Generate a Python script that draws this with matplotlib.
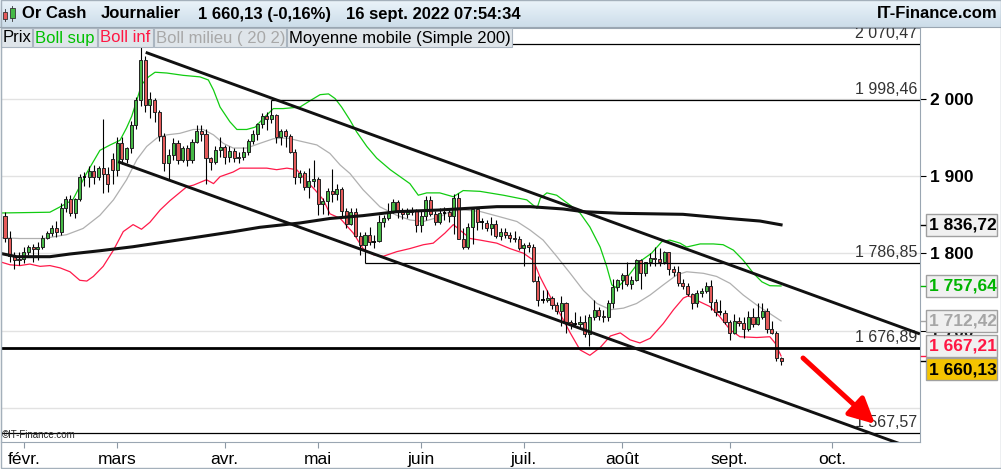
import numpy as np
import matplotlib.pyplot as plt
from matplotlib.patches import Rectangle

plt.rcParams['font.family'] = ['Liberation Sans', 'DejaVu Sans']

# daily candles, one per trading day, 26 Jan 2022 -> 16 Sep 2022
opens = [1848, 1820, 1797, 1791,
         1793, 1801, 1808, 1805, 1808, 1820, 1826, 1833, 1827, 1859, 1870, 1852, 1870, 1898, 1899, 1906, 1898, 1910, 1903, 1922,
         1908, 1943, 1922, 1936, 1966, 1998, 2050, 1992, 1998, 1982, 1951, 1917, 1927, 1943, 1921, 1936, 1921, 1944, 1958, 1954, 1923, 1918, 1933,
         1937, 1925, 1932, 1923, 1925, 1931, 1945, 1954, 1967, 1977, 1974, 1979, 1950, 1958, 1951, 1931, 1898, 1904, 1886, 1894,
         1896, 1863, 1868, 1881, 1877, 1883, 1854, 1838, 1853, 1822, 1811, 1824, 1815, 1816, 1841, 1846, 1853, 1866, 1853, 1851, 1853, 1855,
         1837, 1848, 1869, 1851, 1841, 1852, 1853, 1848, 1871, 1819, 1808, 1834, 1857, 1840, 1839, 1832, 1838, 1822, 1827, 1823, 1820, 1818,
         1807, 1811, 1808, 1764, 1739, 1740, 1742, 1733, 1725, 1735, 1711, 1708, 1709, 1711, 1696, 1718, 1727, 1719, 1717, 1735, 1756,
         1766, 1772, 1760, 1765, 1791, 1775, 1789, 1794, 1792, 1789, 1802, 1779, 1776, 1761, 1758, 1747, 1736, 1748, 1751, 1758, 1737, 1724, 1723,
         1711, 1697, 1712, 1710, 1702, 1718, 1708, 1717, 1725, 1702, 1697, 1665]
highs = [1853, 1829, 1802, 1801,
         1808, 1811, 1812, 1815, 1823, 1829, 1836, 1842, 1865, 1874, 1875, 1872, 1902, 1905, 1913, 1914, 1913, 1974, 1912, 1929,
         1950, 1950, 1937, 1971, 2002, 2070.47, 2055, 2009, 2001, 1985, 1955, 1935, 1949, 1946, 1938, 1940, 1948, 1966, 1966, 1960, 1925, 1939, 1950,
         1940, 1938, 1936, 1931, 1937, 1948, 1959, 1969, 1981, 1982, 1998.46, 1980, 1960, 1961, 1954, 1935, 1908, 1906, 1910, 1920,
         1899, 1872, 1884, 1909, 1890, 1886, 1859, 1858, 1858, 1828, 1827, 1834, 1823, 1849, 1850, 1865, 1870, 1869, 1858, 1858, 1860, 1857,
         1855, 1874, 1874, 1855, 1858, 1860, 1858, 1876, 1878, 1832, 1839, 1857, 1858, 1846, 1843, 1847, 1843, 1832, 1833, 1828, 1829, 1822,
         1813, 1814, 1812, 1771, 1752, 1752, 1745, 1737, 1745, 1737, 1713, 1724, 1719, 1720, 1722, 1739, 1731, 1726, 1740, 1767, 1767,
         1775, 1788, 1770, 1792, 1792, 1789, 1800, 1808, 1807, 1803, 1802, 1783, 1783, 1767, 1762, 1749, 1752, 1755, 1763, 1765, 1741, 1740, 1727,
         1714, 1722, 1717, 1717, 1725, 1729, 1735, 1736, 1729, 1712, 1699, 1666]
lows = [1815, 1788, 1780, 1785,
        1787, 1798, 1788, 1791, 1805, 1818, 1822, 1821, 1824, 1853, 1848, 1846, 1868, 1887, 1885, 1890, 1895, 1878, 1879, 1889,
        1900, 1915, 1917, 1930, 1960, 1990, 1982, 1975, 1970, 1945, 1906, 1895, 1920, 1915, 1918, 1913, 1916, 1942, 1945, 1890, 1907, 1915, 1925,
        1915, 1918, 1918, 1917, 1920, 1927, 1941, 1947, 1962, 1959, 1968, 1942, 1940, 1937, 1930, 1890, 1891, 1882, 1872, 1885,
        1850, 1851, 1850, 1866, 1869, 1848, 1832, 1836, 1821, 1798, 1786.85, 1811, 1807, 1814, 1834, 1843, 1852, 1846, 1844, 1846, 1850, 1828,
        1828, 1843, 1848, 1836, 1838, 1843, 1840, 1825, 1819, 1805, 1805, 1812, 1830, 1831, 1829, 1824, 1820, 1817, 1820, 1815, 1814, 1804,
        1784, 1802, 1763, 1732, 1735, 1737, 1728, 1722, 1706, 1697, 1702, 1704, 1704, 1692, 1680, 1713, 1714, 1711, 1712, 1729, 1751,
        1754, 1758, 1754, 1764, 1754, 1771, 1784, 1783, 1784, 1786, 1772, 1771, 1758, 1754, 1745, 1728, 1730, 1743, 1749, 1727, 1719, 1720, 1708,
        1688, 1696, 1706, 1691, 1699, 1704, 1707, 1715, 1697, 1696, 1660, 1656]
closes = [1820, 1797, 1791, 1793,
          1801, 1808, 1805, 1808, 1820, 1826, 1833, 1827, 1859, 1870, 1852, 1870, 1898, 1899, 1906, 1898, 1910, 1903, 1889, 1908,
          1943, 1922, 1936, 1966, 1998, 2050, 1992, 2000, 1982, 1951, 1917, 1927, 1943, 1921, 1936, 1921, 1944, 1958, 1954, 1923, 1918, 1933, 1937,
          1925, 1932, 1923, 1925, 1931, 1945, 1954, 1967, 1977, 1974, 1979, 1950, 1958, 1951, 1931, 1898, 1904, 1886, 1894, 1896,
          1863, 1868, 1881, 1877, 1883, 1854, 1838, 1853, 1822, 1811, 1824, 1815, 1816, 1841, 1846, 1853, 1866, 1853, 1851, 1853, 1855, 1837,
          1848, 1869, 1851, 1841, 1852, 1853, 1848, 1871, 1819, 1808, 1834, 1857, 1840, 1839, 1832, 1838, 1822, 1827, 1823, 1820, 1818, 1807,
          1811, 1808, 1764, 1739, 1740, 1742, 1733, 1725, 1735, 1711, 1708, 1709, 1711, 1696, 1718, 1727, 1719, 1717, 1735, 1756, 1766,
          1772, 1760, 1765, 1791, 1775, 1789, 1794, 1792, 1789, 1802, 1779, 1776, 1761, 1758, 1747, 1736, 1748, 1751, 1758, 1737, 1724, 1723, 1711,
          1697, 1712, 1710, 1702, 1718, 1708, 1717, 1725, 1702, 1697, 1665, 1660.13]

month_labels = ['févr.', 'mars', 'avr.', 'mai', 'juin', 'juil.', 'août', 'sept.', 'oct.']
month_pos = [4, 24, 47, 67, 89, 111, 132, 155, 177]

# Bollinger (20, 2) and MA200 (bar position, price)
boll_sup_x = [-1.1, 9.6, 11.8, 14.5, 17.5, 20.3, 22.5, 24.6, 26.0, 27.1, 28.2, 29.2, 30.7, 32.1, 34.6, 38.1, 41.7, 43.5, 44.6,
              46.0, 48.1, 49.6, 51.7, 53.5, 55.2, 57.4, 59.5, 63.1, 65.2, 67.4, 69.2, 70.6, 72.0, 73.8, 75.2, 77.4, 79.5,
              82.4, 84.5, 86.6, 88.4, 90.2, 93.0, 95.9, 98.0, 101.6, 106.6, 111.6, 113.0, 113.8, 114.5, 115.9, 118.0,
              120.9, 123.0, 125.1, 127.3, 128.7, 129.8, 130.9, 133.0, 135.5, 138.3, 140.5, 142.2, 144.4, 145.8, 148.7,
              151.5, 153.6, 155.8, 157.9, 160.1, 161.9, 163.6, 166.0]
boll_sup = [1852, 1853, 1860, 1869, 1904, 1933, 1940, 1946, 1962, 1977, 1998, 2018, 2028, 2034, 2033, 2030, 2028, 2024, 2011,
            1989, 1970, 1960, 1960, 1963, 1974, 1987, 1987, 1989, 1997, 2005, 2006, 2000, 1989, 1972, 1957, 1938, 1923,
            1908, 1899, 1890, 1875, 1878, 1878, 1873, 1881, 1880, 1875, 1869, 1862, 1858, 1871, 1878, 1875,
            1862, 1852, 1834, 1808, 1783, 1759, 1755, 1768, 1788, 1800, 1815, 1817, 1813, 1808, 1812,
            1812, 1811, 1804, 1791, 1774, 1763, 1758, 1757.64]
boll_inf_x = [-1.1, 1.1, 3.2, 5.3, 7.5, 9.6, 11.8, 13.9, 16.0, 17.5, 18.9, 21.0, 23.2, 25.3, 27.4, 29.2, 31.0, 33.2, 35.3,
              38.9, 40.3, 43.1, 44.6, 46.0, 48.8, 50.3, 53.1, 56.0, 58.1, 60.3, 62.4, 64.2, 66.3, 68.1, 69.5, 71.7, 74.5,
              76.6, 78.8, 80.9, 83.8, 86.6, 89.5, 91.6, 94.1, 95.9, 97.3, 99.5, 101.6, 105.2, 108.0, 110.9, 113.0, 114.4,
              116.6, 118.7, 120.9, 123.0, 125.1, 127.3, 129.5, 131.6, 133.7, 135.8, 138.0, 140.8, 143.0, 145.1, 146.2,
              148.7, 150.8, 152.9, 155.1, 157.2, 160.8, 163.6, 164.7, 166.0]
boll_inf = [1789, 1785, 1784, 1786, 1783, 1784, 1781, 1776, 1765, 1764, 1770, 1783, 1804, 1828, 1837, 1831, 1840, 1856, 1868,
            1886, 1888, 1895, 1890, 1899, 1905, 1910, 1910, 1910, 1908, 1910, 1908, 1895, 1882, 1869, 1851, 1845, 1826,
            1806, 1798, 1796, 1802, 1806, 1811, 1813, 1826, 1837, 1830, 1819, 1817, 1813, 1806, 1800, 1791, 1770,
            1744, 1722, 1697, 1675, 1668, 1678, 1693, 1697, 1688, 1684, 1690, 1709, 1727, 1742, 1745,
            1737, 1731, 1718, 1701, 1692, 1691, 1692, 1684, 1667.21]
boll_mid_x = [-1.1, 3.2, 8.2, 13.2, 16.7, 20.3, 23.2, 26.0, 28.2, 30.3, 32.5, 34.6, 37.4, 40.3, 42.4, 44.6, 46.7, 48.8, 51.7,
              54.5, 57.4, 60.3, 63.1, 66.7, 69.5, 71.7, 73.8, 76.6, 80.2, 83.8, 86.6, 89.5, 93.0, 95.2, 98.0, 101.6, 105.9,
              109.5, 112.3, 115.1, 118.0, 120.9, 123.7, 126.6, 129.5, 132.3, 135.1, 138.0, 140.8, 143.7, 145.8, 149.4,
              152.2, 155.1, 157.9, 160.8, 163.6, 166.0]
boll_mid = [1820, 1819, 1819, 1824, 1832, 1849, 1869, 1895, 1921, 1938, 1949, 1953, 1955, 1960, 1960, 1953, 1942, 1936, 1936,
            1942, 1948, 1949, 1945, 1940, 1929, 1914, 1903, 1882, 1860, 1849, 1843, 1841, 1847, 1854, 1856, 1854, 1847,
            1841, 1830, 1817, 1796, 1774, 1752, 1735, 1727, 1729, 1735, 1746, 1759, 1772, 1776, 1774,
            1770, 1761, 1746, 1733, 1722, 1712.42]
ma200_x = [-1.1, 2.5, 9.6, 13.9, 20.3, 27.4, 34.6, 41.7, 48.8, 54.5, 63.1, 69.5, 76.6, 83.8, 93.0, 105.2, 112.3, 119.4,
           123.7, 131.6, 145.0, 154.4, 161.5, 166.0]
ma200 = [1799.9, 1795.5, 1795.5, 1799.0, 1803.2, 1808.4, 1814.9, 1821.3, 1827.8, 1833.5, 1839.1, 1844.9, 1848.6, 1853.7,
         1855.9, 1860.2, 1860.2, 1857.2, 1853.7, 1851.6, 1850.3, 1845.1, 1841.6, 1836.72]

levels = [2070.47, 1998.46, 1786.85, 1676.89, 1567.57]
level_from = [29, 57, 77, None, None]
level_width = [0.9, 0.9, 0.9, 2.0, 0.9]

chan_up_x, chan_up_y = [30.1, 195.7], [2059.7, 1695.6]
chan_dn_x, chan_dn_y = [24.2, 195.7], [1918.3, 1544.3]

last_vals = [1836.72, 1757.64, 1712.42, 1667.21, 1660.13]

W, H = 1001, 469
fig = plt.figure(figsize=(W / 100, H / 100), dpi=100, facecolor='white')
ax = fig.add_axes([1 / W, (H - 442) / H, 919 / W, 414 / H])
X0, X1 = -0.856, 195.72
ax.set_xlim(X0, X1)
ax.set_ylim(1555.9, 2091.2)

for g in [1600, 1700, 1800, 1900, 2000]:
    ax.axhline(g, color='#e2e2e2', lw=1, zorder=0.5)

ax.plot(boll_mid_x, boll_mid, color='#b0b0b0', lw=0.9, zorder=2)
ax.plot(boll_sup_x, boll_sup, color='#11cc11', lw=0.9, zorder=2)
ax.plot(boll_inf_x, boll_inf, color='#ff1a4a', lw=0.9, zorder=2)

up, down = '#46b946', '#e45a5a'
for i in range(len(closes)):
    o, h, l, c = opens[i], highs[i], lows[i], closes[i]
    ax.vlines(i, l, h, color='black', lw=0.8, zorder=3)
    if abs(c - o) < 1.5:
        ax.hlines(o, i - 0.4, i + 0.4, color='black', lw=1.3, zorder=4)
    else:
        ax.add_patch(Rectangle((i - 0.33, min(o, c)), 0.66, abs(c - o),
                               facecolor=up if c > o else down, edgecolor='#222222', lw=0.7, zorder=4))

for v, start, lw in zip(levels, level_from, level_width):
    ax.hlines(v, X0 if start is None else start, X1, color='black', lw=lw, zorder=4.5)
    txt = f'{v:,.2f}'.replace(',', ' ').replace('.', ',')
    ax.annotate(txt, xy=(1, v), xycoords=('axes fraction', 'data'), xytext=(-3, 3),
                textcoords='offset pixels', ha='right', va='bottom', fontsize=11.5, color='#333333', zorder=4.6)

ax.plot(ma200_x, ma200, color='#111111', lw=2.2, zorder=5)
ax.plot(chan_up_x, chan_up_y, color='#111111', lw=2.1, zorder=5, solid_capstyle='butt')
ax.plot(chan_dn_x, chan_dn_y, color='#111111', lw=2.1, zorder=5, solid_capstyle='butt')

ax.annotate('', xy=(186.1, 1579.2), xytext=(170.7, 1664.5),
            arrowprops=dict(arrowstyle='-|>,head_length=1.1,head_width=0.55', color='#ff0000', lw=3.6,
                            mutation_scale=14, shrinkA=0, shrinkB=0), zorder=6)

ax.set_xticks(month_pos)
ax.set_xticklabels(month_labels, fontsize=12.5)
ax.tick_params(axis='x', length=4, color='#8c98a4', pad=3)
ax.yaxis.tick_right()
ax.set_yticks([1700, 1800, 1900, 2000])
ax.set_yticklabels([f'{v:,}'.replace(',', ' ') for v in [1700, 1800, 1900, 2000]], fontsize=12.5, fontweight='bold')
ax.tick_params(axis='y', length=4, color='black', pad=3)
for s in ax.spines.values():
    s.set_color('#9aa6b2')

# overlay in pixel coordinates: header, legend, value boxes
ov = fig.add_axes([0, 0, 1, 1], zorder=5)
ov.patch.set_visible(False)
grad = np.linspace(0, 1, 27)[:, None, None]
top, bot = np.array([0.92, 0.955, 0.98]), np.array([0.80, 0.865, 0.915])
ov.imshow(top + (bot - top) * grad * np.ones((1, 2, 1)), extent=[0, W, 27, 0], aspect='auto', zorder=0)
ov.set_xlim(0, W)
ov.set_ylim(H, 0)
ov.axis('off')
ov.plot([0, W], [27.5, 27.5], color='#9aa6b2', lw=0.8)

# header icon
ov.add_patch(Rectangle((3.3, 11.7), 4, 7.6, facecolor='#e45a5a', edgecolor='#333333', lw=0.6))
ov.plot([5.3, 5.3], [9.5, 21.5], color='#333333', lw=0.6, zorder=0.5)
ov.add_patch(Rectangle((10.2, 8.3), 4.3, 10, facecolor='#46b946', edgecolor='#333333', lw=0.6))
ov.plot([12.3, 12.3], [6, 21], color='#333333', lw=0.6, zorder=0.5)

hdr = dict(fontsize=12, fontweight='bold', va='center', color='black')
ov.text(21.5, 14, 'Or Cash', **hdr)
ov.text(101, 14, 'Journalier', **hdr)
ov.text(197.5, 14, '1 660,13 (-0,16%)', **hdr)
ov.text(346.5, 14, '16 sept. 2022 07:54:34', **hdr)
ov.text(997, 14, 'IT-Finance.com', ha='right', **hdr)

legend = [('Prix', 'black', 1, 32), ('Boll sup', '#00c000', 33, 97), ('Boll inf', '#ff1744', 98, 153),
          ('Boll milieu ( 20 2)', '#a8a8a8', 154, 286), ('Moyenne mobile (Simple 200)', 'black', 287, 512)]
for name, col, x0, x1 in legend:
    ov.add_patch(Rectangle((x0, 28), x1 - x0, 19, facecolor='#dfe5ea', edgecolor='#aab5c0', lw=0.8))
    ov.text(x0 + 2, 38, name, color=col, fontsize=12, va='center')

ov.text(2, 434.5, '©IT-Finance.com', fontsize=7, va='center', color='#222222')

box_txt = ['black', '#00b400', '#a6a6a6', '#ff1744', 'black']
box_face = ['#f0f0f0', '#f0f0f0', '#f0f0f0', '#f0f0f0', '#f4c300']
box_shift = [0, 0, 0, -10, 8]
for v, tc, fc, sh in zip(last_vals, box_txt, box_face, box_shift):
    py = H - ax.transData.transform((0, v))[1]
    ov.plot([921, 925], [py, py], color=tc, lw=1)
    cy = py + sh
    ov.add_patch(Rectangle((926, cy - 11), 71, 22, facecolor=fc, edgecolor='#a0a0a0', lw=1))
    ov.text(929, cy + 0.5, f'{v:,.2f}'.replace(',', ' ').replace('.', ','), color=tc,
            fontsize=12.5, fontweight='bold', va='center')

ov.add_patch(Rectangle((0.5, 0.5), W - 1, H - 1, fill=False, edgecolor='#a4b0bb', lw=1))

fig.savefig('out.png', dpi=100)
